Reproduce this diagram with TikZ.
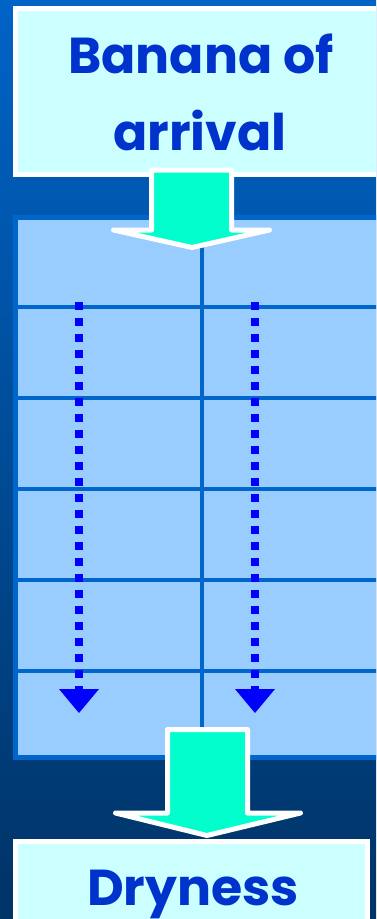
\documentclass[tikz,border=0pt]{standalone}
\usepackage{fontspec}
\newfontfamily\gothic{Poppins}
\definecolor{bgtop}{RGB}{0,99,198}
\definecolor{bgbot}{RGB}{0,51,102}
\definecolor{boxfill}{RGB}{204,255,255}
\definecolor{tabfill}{RGB}{153,204,255}
\definecolor{tabline}{RGB}{0,102,204}
\definecolor{arrfill}{RGB}{0,255,204}
\definecolor{txt}{RGB}{0,51,204}
\definecolor{dotblue}{RGB}{0,0,255}
\tikzset{
  whitebox/.style={draw=white, line width=5pt, fill=boxfill},
  blockarrow/.style={draw=white, line width=5pt, fill=arrfill, line join=round},
  gridline/.style={draw=tabline, line width=4.5pt},
  dotline/.style={draw=dotblue, line width=8pt, dash pattern=on 8pt off 8pt},
  dothead/.style={fill=dotblue},
  label/.style={font=\gothic\bfseries\fontsize{50.5}{50.5}\selectfont, text=txt, inner sep=0pt, anchor=base}
}
\begin{document}
\begin{tikzpicture}[x=1pt,y=-1pt]
\useasboundingbox (0,0) rectangle (376,919);
\shade[top color=bgtop, bottom color=bgbot] (0,0) rectangle (376,919);
\begin{scope}
\clip (0,0) rectangle (376,919);
% top box
\path[whitebox] (15.5,8.5) rectangle (400,174.5);
\node[label] (t1) at (201,73) {Banana of};
\node[label] (t2) at (200,150) {arrival};
% table
\path[draw=tabline, line width=5pt, fill=tabfill] (15.5,217.5) rectangle (400,757.5);
\foreach \yy in {307,398,489,580,671}
  \draw[gridline] (15.5,\yy) -- (400,\yy);
\coordinate (vtop) at (202,217.5);
\coordinate (vbot) at (202,757.5);
\draw[gridline] (vtop) -- (vbot);
% dotted arrows
\coordinate (la) at (79,302);
\coordinate (lb) at (79,690);
\coordinate (ra) at (255,302);
\coordinate (rb) at (255,690);
\draw[dotline] (la) -- (lb);
\draw[dotline] (ra) -- (rb);
\fill[dothead] (59,689) -- (99,689) -- (79,713) -- cycle;
\fill[dothead] (235,689) -- (275,689) -- (255,713) -- cycle;
% arrow 1
\path[blockarrow] (151.5,170) -- (231.5,170) -- (231.5,230) -- (269.5,230) -- (192,247.5) -- (113.5,230) -- (151.5,230) -- cycle;
% arrow 2
\path[blockarrow] (167.5,729.5) -- (247.5,729.5) -- (247.5,813) -- (300.5,813) -- (207,835.5) -- (115.5,813) -- (167.5,813) -- cycle;
% bottom box
\path[whitebox] (15.5,841.5) rectangle (367.5,940);
\node[label] (t3) at (193,905) {Dryness};
\end{scope}
\end{tikzpicture}
\end{document}
